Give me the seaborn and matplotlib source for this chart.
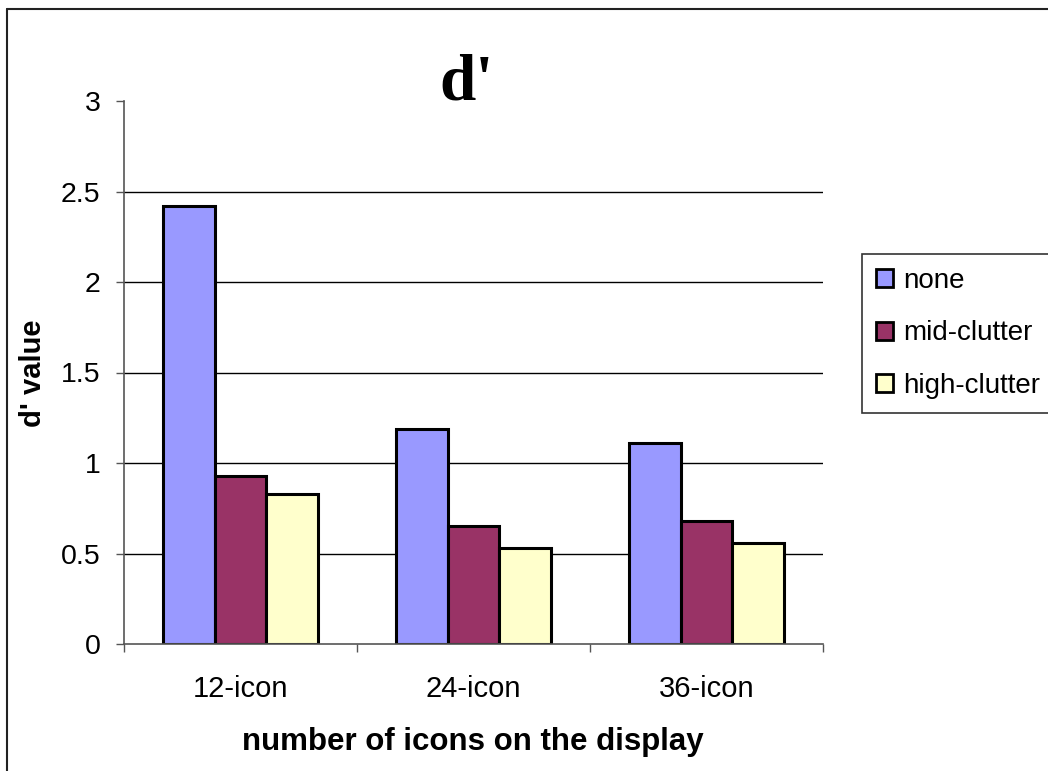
import matplotlib
matplotlib.use("Agg")
import matplotlib.pyplot as plt
from matplotlib.lines import Line2D
import pandas as pd
import seaborn as sns

# Data: d' sensitivity by display size and clutter level
categories = ["12-icon", "24-icon", "36-icon"]
conditions = ["none", "mid-clutter", "high-clutter"]
none_vals = [2.42, 1.19, 1.11]
mid_vals = [0.93, 0.65, 0.68]
high_vals = [0.83, 0.53, 0.56]
colors = ["#9999FF", "#993366", "#FFFFCC"]
y_ticks = [0, 0.5, 1, 1.5, 2, 2.5, 3]

rows = []
for cond, vals in zip(conditions, [none_vals, mid_vals, high_vals]):
    for cat, v in zip(categories, vals):
        rows.append({"icons": cat, "condition": cond, "dprime": v})
df = pd.DataFrame(rows)

sns.set_theme(style="white")
plt.rcParams["font.family"] = ["Liberation Sans", "DejaVu Sans"]
plt.rcParams["text.color"] = "black"
plt.rcParams["xtick.color"] = "black"
plt.rcParams["ytick.color"] = "black"

W, H = 1048, 771
fig = plt.figure(figsize=(W / 100, H / 100), dpi=100)
ax = fig.add_axes([124 / W, 1 - 644 / H, (823 - 124) / W, (644 - 101) / H])

sns.barplot(
    data=df, x="icons", y="dprime", hue="condition",
    order=categories, hue_order=conditions,
    palette=colors, saturation=1, width=0.667,
    edgecolor="black", linewidth=2.2, ax=ax,
)

handles, labels = ax.get_legend_handles_labels()
if ax.get_legend() is not None:
    ax.get_legend().remove()

ax.set_xlim(-0.5, 2.5)
ax.set_ylim(0, 3)
ax.set_yticks(y_ticks)
ax.set_yticklabels([f"{t:g}" for t in y_ticks])
ax.set_xlabel("")
ax.set_ylabel("")

# horizontal gridlines behind the bars
for t in y_ticks[1:-1]:
    ax.axhline(t, color="black", lw=1.0, zorder=0)

for side in ["top", "right"]:
    ax.spines[side].set_visible(False)
for side in ["left", "bottom"]:
    ax.spines[side].set_color("#555555")
    ax.spines[side].set_linewidth(1.2)

ax.tick_params(axis="y", which="major", direction="out", length=6, width=1.0,
               color="#555555", left=True, labelsize=20.5, pad=11, labelcolor="black")
ax.set_xticks([-0.5, 0.5, 1.5, 2.5], minor=True)
ax.tick_params(axis="x", which="minor", direction="out", length=6, width=1.0,
               color="#555555", bottom=True)
ax.tick_params(axis="x", which="major", length=0, labelsize=21, pad=22,
               labelcolor="black")

# titles and axis labels
fig.text(467 / W, 1 - 100 / H, "d'", ha="center", va="baseline", color="black",
         fontsize=47, fontweight="bold", family=["Liberation Serif", "DejaVu Serif"])
fig.text(473 / W, 1 - 742 / H, "number of icons on the display", ha="center",
         va="center", fontsize=22.5, fontweight="bold", color="black")
fig.text(33 / W, 1 - 373 / H, "d' value", ha="center", va="center",
         rotation=90, fontsize=21, fontweight="bold", color="black")

# legend box
leg = fig.legend(
    handles, labels, loc="upper left", bbox_to_anchor=(862 / W, 1 - 254 / H),
    fontsize=20, frameon=True, fancybox=False, edgecolor="black",
    handlelength=0.62, handleheight=0.62, handletextpad=0.35,
    borderpad=0.5, labelspacing=0.95, borderaxespad=0,
)
leg.get_frame().set_linewidth(1.2)
for h in leg.legend_handles:
    h.set_edgecolor("black")
    h.set_linewidth(2.0)
for t in leg.get_texts():
    t.set_color("black")

# outer chart-area border (left and top edges)
fig.add_artist(Line2D([7 / W, 7 / W], [0, 1 - 9 / H], transform=fig.transFigure,
                      color="#222222", lw=1.5))
fig.add_artist(Line2D([7 / W, 1], [1 - 9 / H, 1 - 9 / H], transform=fig.transFigure,
                      color="#222222", lw=1.5))

fig.savefig("out.png", dpi=100)
